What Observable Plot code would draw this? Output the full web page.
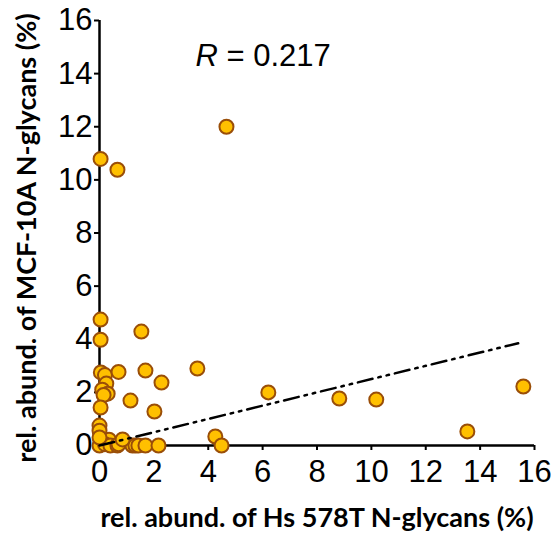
<!DOCTYPE html>
<html>
<head>
<meta charset="utf-8">
<script src="https://cdn.jsdelivr.net/npm/d3@7"></script>
<script src="https://cdn.jsdelivr.net/npm/@observablehq/plot@0.6"></script>
<style>
  html, body { margin: 0; padding: 0; background: #fff; }
</style>
</head>
<body>
<div id="chart"></div>
<script>
// Hs 578T relative abundance (x) vs MCF-10A relative abundance (y), in %
const hsX = [4.67, 0.04, 0.66, 0.04, 0.04, 1.54, 0.05, 0.2, 0.7, 0.25, 0.1, 0.3, 0.15, 0.04, 0.0, 0.0,
             1.69, 2.28, 1.14, 2.02, 3.6, 6.21, 8.82, 10.18, 13.53, 15.59, 4.26, 4.49,
             0.0, 0.35, 0.2, 0.4, 0.66, 0.0, 0.7, 1.21, 1.32, 1.43, 1.69, 2.17, 0.85];
const mcfY = [12.0, 10.79, 10.38, 4.74, 3.98, 4.29, 2.75, 2.65, 2.77, 2.33, 2.1, 1.95, 1.9, 1.43, 0.75, 0.56,
              2.82, 2.37, 1.69, 1.28, 2.9, 2.0, 1.77, 1.73, 0.53, 2.22, 0.34, 0.0,
              0.0, 0.22, 0.05, 0.0, 0.0, 0.3, 0.05, 0.0, 0.0, 0.0, 0.0, 0.0, 0.23];
// trend line end points
const fitX = [0, 15.4];
const fitY = [0, 3.85];
const xTicks = [0, 2, 4, 6, 8, 10, 12, 14, 16];
const yTicks = [0, 2, 4, 6, 8, 10, 12, 14, 16];
const rSymbol = "R";
const rValue = "= 0.217";
const xLabel = "rel. abund. of Hs 578T N-glycans (%)";
const yLabel = "rel. abund. of MCF-10A N-glycans (%)";

const points = hsX.map((x, i) => ({x, y: mcfY[i]}));
const fit = fitX.map((x, i) => ({x, y: fitY[i]}));

const labelFont = "Lato, 'Open Sans', sans-serif";

const chart = Plot.plot({
  width: 556,
  height: 533,
  marginLeft: 99,
  marginRight: 22,
  marginTop: 20,
  marginBottom: 88,
  style: {fontFamily: "'Liberation Sans', Arial, sans-serif", background: "#fff", color: "#000"},
  x: {domain: [0, 16], ticks: xTicks, label: null},
  y: {domain: [0, 16], ticks: yTicks, label: null},
  marks: [
    Plot.axisX({ticks: xTicks, tickSize: 5, tickPadding: 9, fontSize: 31, strokeWidth: 2, label: null}),
    Plot.axisY({ticks: yTicks, tickSize: 5, tickPadding: 2, fontSize: 31, strokeWidth: 2, label: null}),
    Plot.ruleY([0], {stroke: "#000", strokeWidth: 2.5}),
    Plot.ruleX([0], {stroke: "#000", strokeWidth: 2.5}),
    Plot.dot(points, {x: "x", y: "y", r: 7, fill: "#FFC000", stroke: "#9A4E08", strokeWidth: 2}),
    Plot.line(fit, {x: "x", y: "y", stroke: "#000", strokeWidth: 2.5, strokeDasharray: "15,6,2.5,6,2.5,6"}),
    Plot.text([rSymbol], {x: 3.53, y: 14.3, text: d => d, textAnchor: "start", lineAnchor: "bottom",
      fontSize: 31, fontStyle: "italic", fill: "#000"}),
    Plot.text([rValue], {x: 3.53, y: 14.3, dx: 31, text: d => d, textAnchor: "start", lineAnchor: "bottom",
      fontSize: 31, fill: "#000"}),
    Plot.text([xLabel], {frameAnchor: "bottom", textAnchor: "middle", lineAnchor: "middle", dy: 73, text: d => d,
      fontSize: 27, fontWeight: "bold", fontFamily: labelFont, fill: "#000"}),
    Plot.text([yLabel], {frameAnchor: "left", textAnchor: "middle", lineAnchor: "middle", dx: -72, dy: 5, rotate: -90,
      text: d => d, fontSize: 27, fontWeight: "bold", fontFamily: labelFont, fill: "#000"})
  ]
});
document.getElementById("chart").appendChild(chart);
</script>
</body>
</html>
